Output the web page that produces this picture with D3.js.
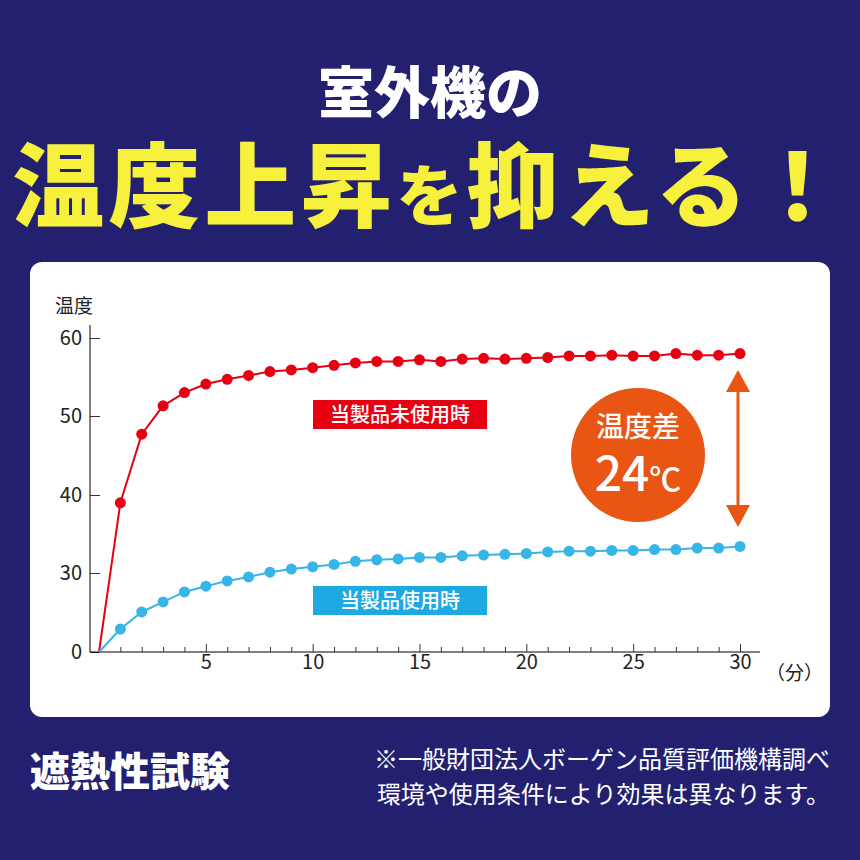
<!DOCTYPE html><html><head><meta charset="utf-8"><script src="https://cdn.jsdelivr.net/npm/d3@7"></script>
<style>body{margin:0}svg{display:block}</style></head><body><script>
const minutes=d3.range(0,31);
const redVals=[0,39,47.7,51.3,53,54.1,54.7,55.2,55.7,55.9,56.2,56.5,56.8,57,57,57.2,57,57.3,57.4,57.3,57.4,57.5,57.7,57.7,57.8,57.7,57.7,58,57.8,57.8,58];
const blueVals=[0,8.7,15.2,19,22.8,25,27,28.5,30.1,30.5,30.8,31.1,31.5,31.7,31.8,32,32,32.2,32.3,32.4,32.5,32.7,32.8,32.8,32.9,32.9,33,33,33.2,33.2,33.4];
const yTicks=[0,30,40,50,60];
const xTicks=[5,10,15,20,25,30];
const F='"Noto Sans CJK JP","Noto Sans",sans-serif';
const svg=d3.select("body").append("svg").attr("width",860).attr("height",860);
svg.append("rect").attr("width",860).attr("height",860).attr("fill","#23216f");
svg.append("text").attr("x",430).attr("y",113).attr("text-anchor","middle").attr("fill","#fff").attr("font-family",F).attr("font-weight",900).attr("font-size",56).text("室外機の");
const t=svg.append("text").attr("x",430).attr("y",220).attr("text-anchor","middle").attr("fill","#f7f03c").attr("font-family",F).attr("font-weight",900).attr("font-size",92).attr("letter-spacing",4);
t.append("tspan").text("温度上昇");t.append("tspan").attr("font-size",66).text("を");t.append("tspan").text("抑える！");
svg.append("rect").attr("x",30).attr("y",262).attr("width",800).attr("height",455).attr("rx",12).attr("fill","#fff");
const x=d3.scaleLinear().domain([0,30]).range([99,740]);
const y=d3.scaleLinear().domain(yTicks).range([652,573,495,416,338]);
const g=svg.append("g");
g.append("g").attr("transform","translate(90,0)").call(d3.axisLeft(y).tickValues(yTicks).tickSize(10).tickSizeOuter(0)).call(a=>{a.select(".domain").attr("d","M0,325V652");a.selectAll("text").attr("font-size",20).attr("font-family",F).attr("fill","#222").attr("x",-8);a.selectAll("line").attr("x1",0).attr("x2",10)});
g.append("g").attr("transform","translate(0,652)").call(d3.axisBottom(x).tickValues(d3.range(0,31)).tickFormat(d=>xTicks.includes(d)?d:"").tickSize(0).tickSizeOuter(0)).call(a=>{a.select(".domain").attr("d","M90,0H760");a.selectAll("line").attr("y1",d=>xTicks.includes(d)?-8:-5).attr("y2",0);a.selectAll("text").attr("font-size",20).attr("font-family",F).attr("fill","#222").attr("dy",14)});
g.selectAll(".tick line").attr("stroke","#333");
svg.append("text").attr("x",55).attr("y",313).attr("font-family",F).attr("font-size",19).attr("fill","#222").text("温度");
svg.append("text").attr("x",766).attr("y",680).attr("font-family",F).attr("font-size",19).attr("fill","#222").text("（分）");
function series(vals,col){
 svg.append("path").datum(vals).attr("fill","none").attr("stroke",col).attr("stroke-width",2).attr("d",d3.line().x((d,i)=>x(i)).y(d=>y(d)));
 svg.selectAll(null).data(vals.slice(1)).join("circle").attr("cx",(d,i)=>x(i+1)).attr("cy",d=>y(d)).attr("r",5.5).attr("fill",col);
}
series(redVals,"#e60012");series(blueVals,"#36b5e6");
function label(yy,txt,col){svg.append("rect").attr("x",313).attr("y",yy).attr("width",174).attr("height",29).attr("fill",col);
 svg.append("text").attr("x",400).attr("y",yy+22).attr("text-anchor","middle").attr("fill","#fff").attr("font-family",F).attr("font-weight",500).attr("font-size",20).text(txt);}
label(400,"当製品未使用時","#e60012");label(586,"当製品使用時","#1fa9e1");
svg.append("circle").attr("cx",638).attr("cy",455).attr("r",67).attr("fill","#e95513");
svg.append("text").attr("x",638).attr("y",437).attr("text-anchor","middle").attr("fill","#fff").attr("font-family",F).attr("font-weight",500).attr("font-size",28).text("温度差");
const t2=svg.append("text").attr("x",638).attr("y",491).attr("text-anchor","middle").attr("fill","#fff").attr("font-family",F).attr("font-weight",500).attr("font-size",48);
t2.append("tspan").text("24");t2.append("tspan").attr("font-size",32).text("℃");
svg.append("line").attr("x1",738).attr("x2",738).attr("y1",385).attr("y2",512).attr("stroke","#e95513").attr("stroke-width",3);
svg.append("path").attr("d","M726,392L738,370L750,392Z M726,505L738,527L750,505Z").attr("fill","#e95513");
svg.append("text").attr("x",30).attr("y",786).attr("fill","#fff").attr("font-family",F).attr("font-weight",900).attr("font-size",40).text("遮熱性試験");
svg.append("text").attr("x",830).attr("y",768).attr("text-anchor","end").attr("fill","#fff").attr("font-family",F).attr("font-size",24).text("※一般財団法人ボーゲン品質評価機構調べ");
svg.append("text").attr("x",830).attr("y",803).attr("text-anchor","end").attr("fill","#fff").attr("font-family",F).attr("font-size",24).text("環境や使用条件により効果は異なります。");
</script></body></html>
